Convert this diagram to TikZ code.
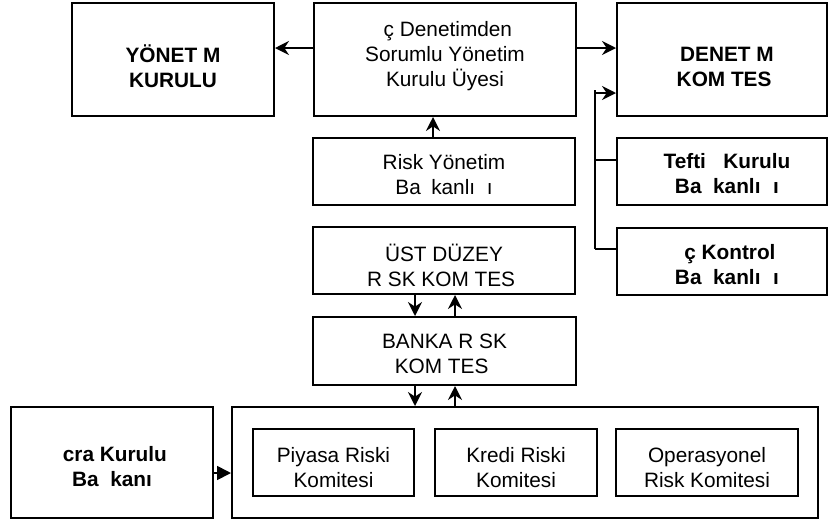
\documentclass[tikz,border=0pt]{standalone}
\usepackage{fontspec}
\setmainfont{Liberation Sans}
\usetikzlibrary{arrows.meta}
\newcommand\fs{\fontsize{15.6pt}{18.75pt}\selectfont}
\begin{document}
\begin{tikzpicture}[x=0.75pt,y=-0.75pt,
  bx/.style 2 args={draw, line width=1.5pt, minimum width=#1*0.75pt, minimum height=#2*0.75pt, inner sep=0pt},
  txt/.style={align=center, font=\fs, inner sep=0pt},
  bb/.style={font=\fs\bfseries},
  ln/.style={line width=1.3pt},
  arr/.style={ln, -{Stealth[length=10.5pt,width=10.5pt,inset=3.5pt]}},
  tri/.style={ln, -{Triangle[length=10.5pt,width=10.5pt]}}]
\useasboundingbox (0,0) rectangle (828,522);
% boxes
\node[bx={202}{113}] (yk) at (173,59.5) {};
\node[bx={262}{113}] (icd) at (445,59.5) {};
\node[bx={210}{113}] (dk) at (722,59.5) {};
\node[bx={262}{67}] (ry) at (444,171.5) {};
\node[bx={210}{67}] (tk) at (722,171.5) {};
\node[bx={262}{67}] (ud) at (444,260.5) {};
\node[bx={210}{67}] (ik) at (722,261) {};
\node[bx={263}{68}] (br) at (444.5,351) {};
\node[bx={586}{111}] (big) at (525,462.5) {};
\node[bx={202}{111}] (ic) at (112,462.5) {};
\node[bx={161}{67}] (pr) at (333.5,462.5) {};
\node[bx={162}{67}] (kr) at (516,462.5) {};
\node[bx={182}{67}] (or) at (707,462.5) {};
% texts
\node[txt, bb] (t-yk) at ([yshift=-5.25pt]yk.center) {YÖNET\phantom{İ}M\\KURULU};
\node[txt] (t-icd) at ([yshift=4pt]icd.center) {\phantom{İ}ç Denetimden\\Sorumlu Yönetim\\Kurulu Üyesi};
\node[txt, bb] (t-dk) at ([xshift=3.75pt,yshift=-4.5pt]dk.center) {DENET\phantom{İ}M\\KOM\phantom{İ}TES\phantom{İ}};
\node[txt] (t-ry) at ([yshift=-4pt]ry.center) {Risk Yönetim\\Ba\phantom{ş}kanlı\phantom{ğ}ı};
\node[txt, bb] (t-tk) at ([xshift=3.75pt,yshift=-3.4pt]tk.center) {Tefti\phantom{ş} Kurulu\\Ba\phantom{ş}kanlı\phantom{ğ}ı};
\node[txt] (t-ud) at ([yshift=-3.75pt]ud.center) {ÜST DÜZEY\\R\phantom{İ}SK KOM\phantom{İ}TES\phantom{İ}};
\node[txt, bb] (t-ik) at ([xshift=3.75pt,yshift=-3.4pt]ik.center) {\phantom{İ}ç Kontrol\\Ba\phantom{ş}kanlı\phantom{ğ}ı};
\node[txt] (t-br) at ([yshift=-1.1pt]br.center) {BANKA R\phantom{İ}SK\\KOM\phantom{İ}TES\phantom{İ}};
\node[txt, bb] (t-ic) at ([yshift=-3.4pt]ic.center) {\phantom{İ}cra Kurulu\\Ba\phantom{ş}kanı};
\node[txt] (t-pr) at ([yshift=-4pt]pr.center) {Piyasa Riski\\Komitesi};
\node[txt] (t-kr) at ([yshift=-4pt]kr.center) {Kredi Riski\\Komitesi};
\node[txt] (t-or) at ([yshift=-4pt]or.center) {Operasyonel\\Risk Komitesi};
% connectors
\coordinate (a48) at (0,48);
\coordinate (v0) at (595,90);
\coordinate (v1) at (595,93);
\coordinate (v2) at (595,160);
\coordinate (v3) at (595,249);
\coordinate (x433) at (433,0);
\coordinate (x415) at (415,0);
\coordinate (x455) at (455,0);
\coordinate (a473) at (0,473);
\draw[arr] (icd.west |- a48) -- (yk.east |- a48);
\draw[arr] (icd.east |- a48) -- (dk.west |- a48);
\draw[ln] (v0) -- (v3);
\draw[arr] (v1) -- (dk.west |- v1);
\draw[ln] (v2) -- (tk.west |- v2);
\draw[ln] (v3) -- (ik.west |- v3);
\draw[arr] (ry.north -| x433) -- (icd.south -| x433);
\draw[arr] (ud.south -| x415) -- (br.north -| x415);
\draw[arr] (br.north -| x455) -- (ud.south -| x455);
\draw[arr] (br.south -| x415) -- (big.north -| x415);
\draw[arr] (big.north -| x455) -- (br.south -| x455);
\draw[tri] (ic.east |- a473) -- (big.west |- a473);
\end{tikzpicture}
\end{document}
